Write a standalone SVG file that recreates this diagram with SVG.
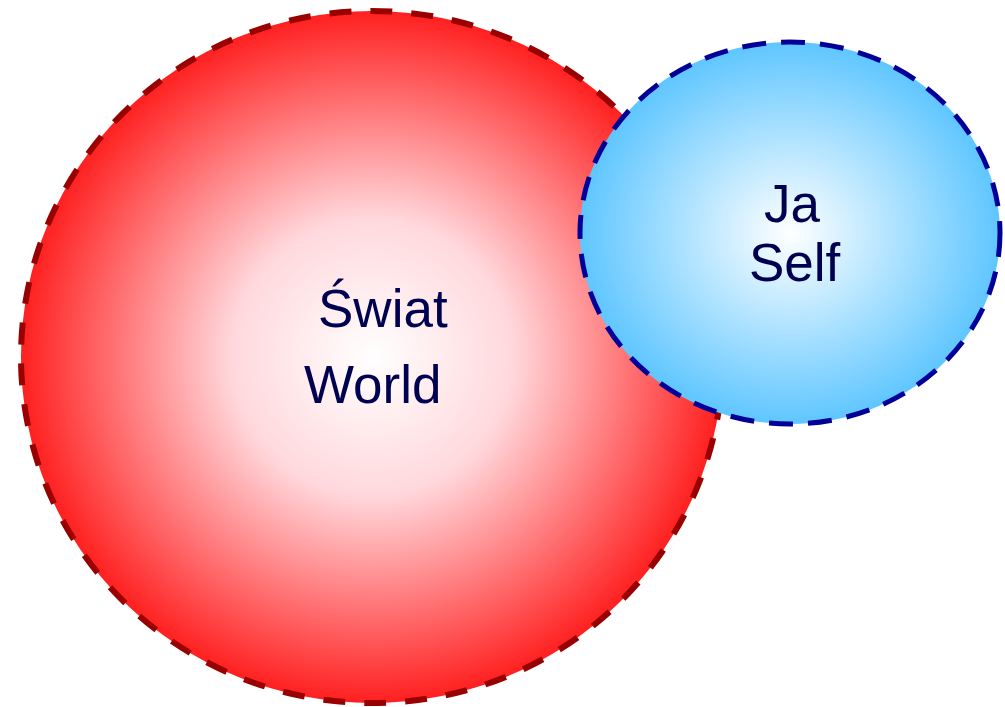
<svg xmlns="http://www.w3.org/2000/svg" width="1005" height="707" viewBox="0 0 1005 707">
<defs>
<radialGradient id="gRed" cx="0.5" cy="0.5" r="0.5">
<stop offset="0" stop-color="#ffffff"/>
<stop offset="0.4" stop-color="#ffd8dc"/>
<stop offset="1" stop-color="#ff2020"/>
</radialGradient>
<radialGradient id="gBlue" cx="0.5" cy="0.5" r="0.5">
<stop offset="0" stop-color="#ffffff"/>
<stop offset="1" stop-color="#5fc6ff"/>
</radialGradient>
<style>
.lbl{font-family:"Liberation Sans",Arial,sans-serif;font-size:53px;fill:#000050;}
.red{fill:url(#gRed);stroke:#990000;stroke-width:6;stroke-dasharray:22 19;}
.blue{fill:url(#gBlue);stroke:#000099;stroke-width:5;stroke-dasharray:24 15;}
</style>
</defs>
<rect width="1005" height="707" fill="#ffffff"/>
<g id="world">
<ellipse class="red" cx="372" cy="357" rx="351" ry="346"/>
<text class="lbl" x="318" y="327">Świat</text>
<text class="lbl" x="304" y="403">World</text>
</g>
<g id="self">
<ellipse class="blue" cx="790" cy="233" rx="210" ry="191"/>
<text class="lbl" x="764" y="222">Ja</text>
<text class="lbl" x="749" y="281">Self</text>
</g>
<g id="connectors"/>
</svg>
